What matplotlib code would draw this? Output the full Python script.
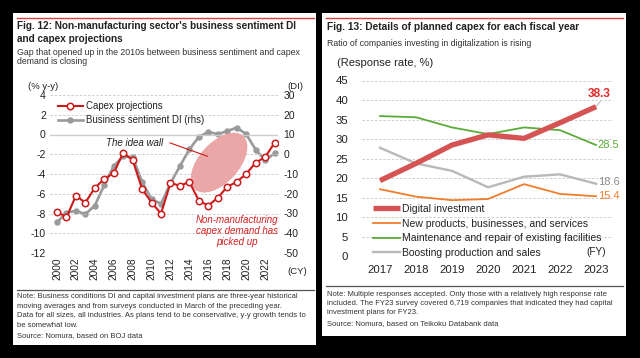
import matplotlib
matplotlib.use("Agg")
import matplotlib.pyplot as plt
from matplotlib.patches import Rectangle, Ellipse
from matplotlib.lines import Line2D
from matplotlib.transforms import IdentityTransform

plt.rcParams['font.family'] = ['Liberation Sans', 'DejaVu Sans']
plt.rcParams['axes.unicode_minus'] = False

# ---------------- data: Fig. 12 ----------------
years12 = list(range(2000, 2024))
capex = [-7.8, -8.4, -6.2, -6.9, -5.4, -4.5, -3.9, -1.85, -2.6, -5.5, -6.9, -8.0,
         -4.9, -5.2, -4.8, -6.7, -7.2, -6.4, -5.3, -4.8, -4.0, -2.85, -2.3, -0.85]
di = [-34.5, -29.5, -28.7, -30.3, -26.0, -15.5, -6.0, -1.0, -1.5, -14.0, -22.8, -25.0,
      -14.7, -6.0, 2.5, 8.8, 11.3, 10.2, 11.7, 13.5, 10.2, 2.4, -3.0, 0.4]
xticks12 = list(range(2000, 2023, 2))
lticks = [4, 2, 0, -2, -4, -6, -8, -10, -12]
rticks = [30, 20, 10, 0, -10, -20, -30, -40, -50]

# ---------------- data: Fig. 13 ----------------
years13 = [2017, 2018, 2019, 2020, 2021, 2022, 2023]
digital = [19.4, 23.8, 28.5, 31.1, 30.2, 34.2, 38.3]
newprod = [17.2, 15.3, 14.4, 14.7, 18.5, 16.0, 15.4]
maint = [35.9, 35.6, 33.0, 31.3, 33.0, 32.3, 28.5]
boost = [27.8, 23.8, 21.9, 17.7, 20.4, 21.0, 18.6]
names13 = ["Digital investment", "New products, businesses, and services",
           "Maintenance and repair of existing facilities", "Boosting production and sales"]

W, H = 640, 358
fig = plt.figure(figsize=(W / 100, H / 100), dpi=100, facecolor='black')


def fx(x):
    return x / W


def fy(y):
    return 1 - y / H


def ftext(x, y, s, **kw):
    fig.text(fx(x), fy(y), s, **kw)


def fline(x0, x1, y, color, lw):
    fig.add_artist(Line2D([fx(x0), fx(x1)], [fy(y), fy(y)], color=color, lw=lw,
                          transform=fig.transFigure))


# panels
fig.patches.append(Rectangle((fx(13), fy(345)), fx(316) - fx(13), fy(13) - fy(345),
                             transform=fig.transFigure, facecolor='white', edgecolor='none', zorder=-5))
fig.patches.append(Rectangle((fx(322), fy(336)), fx(626) - fx(322), fy(13) - fy(336),
                             transform=fig.transFigure, facecolor='white', edgecolor='none', zorder=-5))

RED_TOP = '#e03c3c'
fline(17, 314, 17.5, RED_TOP, 1.0)
fline(326, 623, 17.5, RED_TOP, 1.0)

TXT = '#222222'
# titles
ftext(17, 26, "Fig. 12: Non-manufacturing sector's business sentiment DI", fontsize=7.2,
      fontweight='bold', color=TXT, va='center')
ftext(17, 38.5, "and capex projections", fontsize=7.2, fontweight='bold', color=TXT, va='center')
ftext(17, 52.5, "Gap that opened up in the 2010s between business sentiment and capex",
      fontsize=6.3, color='#333333', va='center')
ftext(17, 62, "demand is closing", fontsize=6.3, color='#333333', va='center')

ftext(327, 27.5, "Fig. 13: Details of planned capex for each fiscal year", fontsize=7.25,
      fontweight='bold', color=TXT, va='center')
ftext(327, 43, "Ratio of companies investing in digitalization is rising", fontsize=6.3,
      color='#333333', va='center')

# notes
fline(17, 314, 289.5, '#555555', 0.9)
notes12 = ["Note: Business conditions DI and capital investment plans are three-year historical",
           "moving averages and from surveys conducted in March of the preceding year.",
           "Data for all sizes, all industries. As plans tend to be conservative, y-y growth tends to",
           "be somewhat low."]
for i, s in enumerate(notes12):
    ftext(17, 297 + i * 9.4, s, fontsize=5.5, color='#333333', va='center')
ftext(17, 336, "Source: Nomura, based on BOJ data", fontsize=5.5, color='#333333', va='center')

fline(326, 623, 286, '#555555', 0.9)
notes13 = ["Note: Multiple responses accepted. Only those with a relatively high response rate",
           "included. The FY23 survey covered 6,719 companies that indicated they had capital",
           "investment plans for FY23."]
for i, s in enumerate(notes13):
    ftext(327, 294 + i * 9.4, s, fontsize=5.5, color='#333333', va='center')
ftext(327, 323.5, "Source: Nomura, based on Teikoku Databank data", fontsize=5.5,
      color='#333333', va='center')

# ---------------- Fig. 12 axes ----------------
L, R, T, B = 50, 278, 95, 253
ax = fig.add_axes([fx(L), fy(B), fx(R) - fx(L), fy(T) - fy(B)])
ax2 = ax.twinx()
ax.set_zorder(ax2.get_zorder() + 1)
ax.patch.set_visible(False)
ax2.patch.set_visible(False)

ax.set_xlim(1999.26, 2023.37)
ax.set_ylim(-12, 4)
ax2.set_ylim(-50, 30)
for a in (ax, ax2):
    for sp in a.spines.values():
        sp.set_visible(False)
ax.set_yticks(lticks)
ax2.set_yticks(rticks)
ax.set_xticks(xticks12)
ax.set_xticklabels([str(y) for y in xticks12], rotation=90, fontsize=7.3, color=TXT)
ax.tick_params(axis='both', length=0, pad=3)
ax.tick_params(axis='y', labelsize=7.5, labelcolor=TXT)
ax2.tick_params(axis='y', length=0, labelsize=7.5, labelcolor=TXT, pad=4)
for v in lticks:
    if v == 0:
        ax.axhline(v, color='#cccccc', lw=1.0, zorder=0)
    else:
        ax.axhline(v, color='#c8c8c8', lw=0.6, ls=(0, (3, 2)), zorder=0)

GRAY12 = '#9a9a9a'
RED12 = '#cc1a1a'
ax2.plot(years12, di, color=GRAY12, lw=1.9, marker='o', ms=3.6, mfc=GRAY12, mec=GRAY12, zorder=3)
ax.plot(years12, capex, color=RED12, lw=1.5, marker='o', ms=4.6, mfc='white', mec=RED12,
        mew=1.1, zorder=4)

ax.text(-0.095, 1.055, "(% y-y)", transform=ax.transAxes, fontsize=6.8, color=TXT, ha='left', va='center')
ax.text(1.04, 1.055, "(DI)", transform=ax.transAxes, fontsize=6.8, color=TXT, ha='left', va='center')
ax.text(1.04, -0.12, "(CY)", transform=ax.transAxes, fontsize=6.8, color=TXT, ha='left', va='center')

# legend
h1 = Line2D([], [], color=RED12, lw=1.5, marker='o', ms=4.6, mfc='white', mec=RED12, mew=1.1)
h2 = Line2D([], [], color=GRAY12, lw=1.9, marker='o', ms=3.6, mfc=GRAY12, mec=GRAY12)
leg = ax.legend([h1, h2], ["Capex projections", "Business sentiment DI (rhs)"],
                loc='upper left', bbox_to_anchor=(fx(58), fy(101)), bbox_transform=fig.transFigure,
                frameon=False, fontsize=6.9, handlelength=2.6, handletextpad=0.3,
                labelspacing=0.45, borderpad=0, borderaxespad=0)
for t in leg.get_texts():
    t.set_color(TXT)

# ellipse highlighting the gap
cx, cy = ax.transData.transform((2017.14, -2.85))
ell = Ellipse((cx, cy), 72, 40, angle=48, transform=IdentityTransform(),
              facecolor='#eaa2a2', edgecolor='none', zorder=2, alpha=0.95)
ax.add_artist(ell)

ax.text(2008.2, -0.85, "The idea wall", fontsize=7, style='italic', color=TXT, ha='center', va='center')
ax.plot([2011.95, 2015.9], [-0.85, -2.2], color=RED12, lw=0.8, zorder=3)
ax.text(2019.0, -9.8, "Non-manufacturing\ncapex demand has\npicked up", fontsize=7,
        style='italic', color='#d42020', ha='center', va='center', linespacing=1.1)

# ---------------- Fig. 13 axes ----------------
L2, R2, T2, B2 = 362, 613, 80.5, 256.5
bx = fig.add_axes([fx(L2), fy(B2), fx(R2) - fx(L2), fy(T2) - fy(B2)])
bx.patch.set_visible(False)
bx.set_xlim(2016.5, 2023.47)
bx.set_ylim(0, 45)
for sp in bx.spines.values():
    sp.set_visible(False)
bx.set_yticks(range(0, 46, 5))
bx.set_xticks(years13)
bx.tick_params(axis='both', length=0, labelsize=8.2, labelcolor=TXT)
bx.tick_params(axis='x', pad=6)
bx.tick_params(axis='y', pad=10)
for v in range(5, 46, 5):
    bx.axhline(v, color='#c8c8c8', lw=0.6, ls=(0, (3, 2)), zorder=0)

C_DIG = '#d65353'
C_NEW = '#f07d2c'
C_MNT = '#5aad3a'
C_BST = '#b9b9b9'
l1, = bx.plot(years13, digital, color=C_DIG, lw=3.8, zorder=5, solid_capstyle='butt')
l2, = bx.plot(years13, newprod, color=C_NEW, lw=1.3, zorder=3)
l3, = bx.plot(years13, maint, color=C_MNT, lw=1.3, zorder=4)
l4, = bx.plot(years13, boost, color=C_BST, lw=1.7, zorder=2)

bx.text(-0.1, 1.1, "(Response rate, %)", transform=bx.transAxes, fontsize=8, color=TXT,
        ha='left', va='center')
bx.text(2023.0, -0.2, "(FY)", fontsize=7.2, color=TXT, ha='center', va='bottom')

# end labels
bx.plot([2023.0, 2023.12], [digital[-1], 39.7], color='#aaaaaa', lw=0.6, zorder=6)
bx.text(2023.1, 41.6, f"{digital[-1]:.1f}", fontsize=8.6, fontweight='bold', color='#dd2a2a',
        ha='center', va='center')
bx.text(2023.05, maint[-1], f"{maint[-1]:.1f}", fontsize=8, color=C_MNT, ha='left', va='center')
bx.text(2023.05, boost[-1] + 0.5, f"{boost[-1]:.1f}", fontsize=8, color='#8c8c8c', ha='left', va='center')
bx.text(2023.05, newprod[-1], f"{newprod[-1]:.1f}", fontsize=8, color=C_NEW, ha='left', va='center')

leg2 = bx.legend([l1, l2, l3, l4], names13, loc='upper left',
                 bbox_to_anchor=(fx(373), fy(204)), bbox_transform=fig.transFigure,
                 frameon=False, fontsize=7.5, handlelength=2.6, handletextpad=0.15,
                 labelspacing=0.45, borderpad=0, borderaxespad=0)
for t in leg2.get_texts():
    t.set_color(TXT)

fig.savefig("out.png", dpi=100, facecolor='black')
